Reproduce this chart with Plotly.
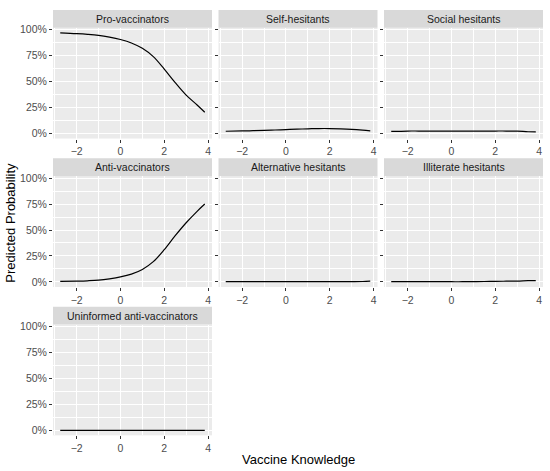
import plotly.graph_objects as go

W, H = 550, 471

# vaccine knowledge values (x) and predicted probabilities per class
knowledge = [-2.75, -2, -1.5, -1, -0.5, 0, 0.5, 1, 1.5, 2, 2.5, 3, 3.5, 3.85]

pro_vaccinators = [0.970, 0.962, 0.955, 0.945, 0.928, 0.905, 0.872, 0.820, 0.740, 0.620, 0.490, 0.370, 0.275, 0.205]
self_hesitants = [0.022, 0.025, 0.027, 0.030, 0.034, 0.038, 0.042, 0.045, 0.048, 0.048, 0.045, 0.040, 0.032, 0.025]
social_hesitants = [0.020, 0.024, 0.024, 0.024, 0.024, 0.024, 0.024, 0.024, 0.024, 0.024, 0.024, 0.023, 0.017, 0.016]
anti_vaccinators = [0.005, 0.008, 0.011, 0.017, 0.030, 0.048, 0.075, 0.120, 0.195, 0.310, 0.445, 0.570, 0.680, 0.750]
alternative_hesitants = [0.003, 0.003, 0.003, 0.003, 0.003, 0.003, 0.003, 0.003, 0.003, 0.003, 0.003, 0.003, 0.004, 0.008]
illiterate_hesitants = [0.002, 0.002, 0.002, 0.002, 0.002, 0.002, 0.002, 0.003, 0.004, 0.006, 0.007, 0.008, 0.012, 0.013]
uninformed_anti = [0.000, 0.000, 0.000, 0.000, 0.000, 0.000, 0.000, 0.000, 0.000, 0.000, 0.000, 0.000, 0.000, 0.000]

panels = [
    ("Pro-vaccinators", pro_vaccinators),
    ("Self-hesitants", self_hesitants),
    ("Social hesitants", social_hesitants),
    ("Anti-vaccinators", anti_vaccinators),
    ("Alternative hesitants", alternative_hesitants),
    ("Illiterate hesitants", illiterate_hesitants),
    ("Uninformed anti-vaccinators", uninformed_anti),
]

x_ticks = [-2, 0, 2, 4]
y_ticks = [0, 0.25, 0.5, 0.75, 1.0]
y_labels = ["0%", "25%", "50%", "75%", "100%"]

# panel boxes in pixels
cols_px = [(53, 212), (218.5, 377.5), (384, 543)]
rows_px = [(24, 136), (174, 286), (324, 436)]
strip_h = 18


def px_x(p):
    return p / W


def px_y(p):
    return 1 - p / H


FONT = "Liberation Sans"
fig = go.Figure()
layout = dict(
    width=W, height=H,
    margin=dict(l=0, r=0, t=0, b=0),
    paper_bgcolor="white",
    plot_bgcolor="#EBEBEB",
    showlegend=False,
    font=dict(family=FONT, color="#4D4D4D", size=10.5),
)
shapes = []
annotations = []

for i, (name, vals) in enumerate(panels):
    r, c = divmod(i, 3)
    n = "" if i == 0 else str(i + 1)
    x0, x1 = cols_px[c]
    y0, y1 = rows_px[r]
    fig.add_trace(go.Scatter(
        x=knowledge, y=vals, mode="lines",
        line=dict(color="black", width=1.2, shape="spline", smoothing=1.0),
        xaxis="x" + n, yaxis="y" + n, hoverinfo="skip",
    ))
    layout["xaxis" + n] = dict(
        domain=[px_x(x0), px_x(x1)], anchor="y" + n,
        range=[-3.08, 4.18], tickvals=x_ticks,
        ticks="outside", ticklen=3, tickcolor="#333333", tickwidth=1,
        showgrid=True, gridcolor="white", gridwidth=1.1,
        minor=dict(dtick=1, tick0=-3, showgrid=True, gridcolor="white", gridwidth=0.5),
        zeroline=False, showline=False, fixedrange=True,
        tickfont=dict(size=10.5, color="#4D4D4D"),
    )
    layout["yaxis" + n] = dict(
        domain=[px_y(y1), px_y(y0)], anchor="x" + n,
        range=[-0.0485, 1.0185], tickvals=y_ticks, ticktext=y_labels,
        ticks="outside", ticklen=3, tickcolor="#333333", tickwidth=1,
        showticklabels=(c == 0),
        showgrid=True, gridcolor="white", gridwidth=1.1,
        minor=dict(dtick=0.125, tick0=0, showgrid=True, gridcolor="white", gridwidth=0.5),
        zeroline=False, showline=False, fixedrange=True,
        tickfont=dict(size=10.5, color="#4D4D4D"),
    )
    # facet strip
    shapes.append(dict(
        type="rect", xref="paper", yref="paper",
        x0=px_x(x0), x1=px_x(x1),
        y0=px_y(y0), y1=px_y(y0 - strip_h),
        fillcolor="#D9D9D9", line=dict(width=0), layer="below",
    ))
    annotations.append(dict(
        text=name, xref="paper", yref="paper",
        x=px_x((x0 + x1) / 2), y=px_y(y0 - strip_h / 2),
        showarrow=False, xanchor="center", yanchor="middle",
        font=dict(family=FONT, size=10.5, color="#1A1A1A"),
    ))

annotations.append(dict(
    text="Vaccine Knowledge", xref="paper", yref="paper",
    x=px_x(298), y=px_y(460), showarrow=False,
    xanchor="center", yanchor="middle",
    font=dict(family=FONT, size=13, color="black"),
))
annotations.append(dict(
    text="Predicted Probability", xref="paper", yref="paper",
    x=px_x(11), y=px_y(221), showarrow=False, textangle=-90,
    xanchor="center", yanchor="middle",
    font=dict(family=FONT, size=13, color="black"),
))

layout["shapes"] = shapes
layout["annotations"] = annotations
fig.update_layout(**layout)
# drop the default body margin so the figure fills the window exactly
fig.write_html("out.html", config={"displayModeBar": False},
               post_script="document.body.style.margin = '0';")
